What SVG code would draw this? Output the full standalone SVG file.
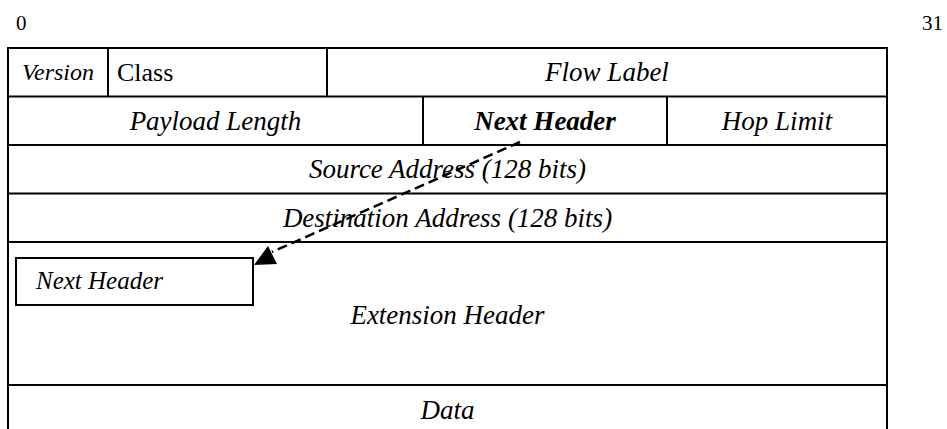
<svg xmlns="http://www.w3.org/2000/svg" width="947" height="429" viewBox="0 0 947 429">
  <defs>
    <style>
      .frame { fill: none; stroke: #000; stroke-width: 2; }
      .rule { stroke: #000; stroke-width: 2; }
      .t { font-family: "Liberation Serif", "Times New Roman", serif; fill: #000; }
      .it { font-style: italic; font-size: 27px; }
      .mid { text-anchor: middle; }
      .dash { fill: none; stroke: #000; stroke-width: 2.5; stroke-dasharray: 10 5; }
    </style>
  </defs>
  <rect width="947" height="429" fill="#fff"/>

  <!-- bit index labels -->
  <text class="t" x="16" y="30" font-size="21">0</text>
  <text class="t" x="922" y="30" font-size="21">31</text>

  <!-- packet frame -->
  <g id="frame">
    <path class="frame" d="M8,429 V48 H887 V429"/>
    <line class="rule" x1="8" y1="96.5" x2="887" y2="96.5"/>
    <line class="rule" x1="8" y1="145" x2="887" y2="145"/>
    <line class="rule" x1="8" y1="193.5" x2="887" y2="193.5"/>
    <line class="rule" x1="8" y1="242" x2="887" y2="242"/>
    <line class="rule" x1="8" y1="385" x2="887" y2="385"/>
  </g>

  <g id="version">
    <line class="rule" x1="108" y1="48" x2="108" y2="96.5"/>
    <text class="t" x="22" y="80" font-size="24" font-style="italic">Version</text>
  </g>
  <g id="class">
    <line class="rule" x1="327" y1="48" x2="327" y2="96.5"/>
    <text class="t" x="117" y="81" font-size="26">Class</text>
  </g>
  <g id="flow-label">
    <text class="t it mid" x="607" y="81">Flow Label</text>
  </g>

  <g id="payload-length">
    <text class="t it mid" x="215.5" y="130">Payload Length</text>
  </g>
  <g id="next-header">
    <line class="rule" x1="423" y1="96.5" x2="423" y2="145"/>
    <text class="t it mid" x="545" y="130" font-weight="bold">Next Header</text>
  </g>
  <g id="hop-limit">
    <line class="rule" x1="667" y1="96.5" x2="667" y2="145"/>
    <text class="t it mid" x="777" y="130">Hop Limit</text>
  </g>

  <g id="source-address">
    <text class="t it mid" x="447.5" y="178">Source Address (128 bits)</text>
  </g>
  <g id="destination-address">
    <text class="t it mid" x="447.5" y="227">Destination Address (128 bits)</text>
  </g>

  <g id="extension-header">
    <text class="t it mid" x="447.5" y="324">Extension Header</text>
  </g>
  <g id="ext-next-header">
    <rect class="frame" x="16" y="258" width="237" height="47"/>
    <text class="t" x="36" y="289" font-size="25" font-style="italic">Next Header</text>
  </g>

  <g id="data">
    <text class="t it mid" x="447.5" y="419">Data</text>
  </g>

  <!-- pointer from the fixed header's Next Header field to the extension header -->
  <g id="connectors">
    <line class="dash" x1="520" y1="142" x2="272" y2="252"/>
    <polygon points="268,246 254,265 277,264" fill="#000"/>
  </g>
</svg>
